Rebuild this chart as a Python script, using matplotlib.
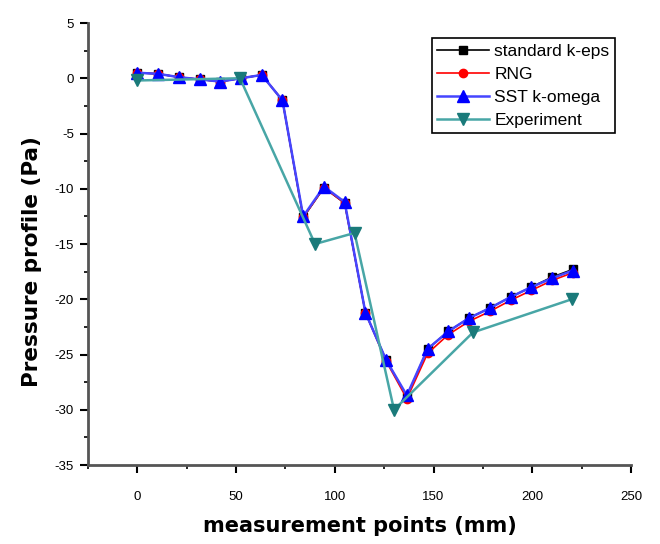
import numpy as np
import matplotlib
matplotlib.use('Agg')
import matplotlib.pyplot as plt
from matplotlib.ticker import MultipleLocator

# measurement positions (mm)
x_sim = [0, 10.5, 21, 31.5, 42, 52.5, 63, 73.5, 84, 94.5, 105, 115.5,
         126, 136.5, 147, 157.5, 168, 178.5, 189, 199.5, 210, 220.5]
keps = [0.5, 0.4, 0.1, -0.1, -0.3, 0.0, 0.3, -2.0, -12.6, -9.9, -11.3, -21.2,
        -25.5, -28.8, -24.5, -22.9, -21.7, -20.8, -19.8, -18.9, -18.0, -17.3]
rng = [0.5, 0.4, 0.1, -0.1, -0.3, 0.0, 0.3, -2.0, -12.6, -9.9, -11.3, -21.2,
       -25.6, -29.0, -24.9, -23.2, -22.0, -21.1, -20.1, -19.2, -18.3, -17.6]
sst = [0.5, 0.4, 0.1, -0.1, -0.3, 0.0, 0.3, -2.0, -12.5, -9.8, -11.2, -21.2,
       -25.5, -28.7, -24.5, -22.9, -21.7, -20.8, -19.8, -18.9, -18.1, -17.4]
x_exp = [0, 52, 90, 110, 130, 170, 220]
exp = [-0.2, 0.0, -15.0, -14.0, -30.0, -23.0, -20.0]

plt.rcParams['font.family'] = ['Liberation Sans', 'DejaVu Sans']
plt.rcParams['axes.unicode_minus'] = False

fig = plt.figure(figsize=(6.6, 5.44), dpi=100)
ax = fig.add_axes([0.1333, 0.1452, 0.8227, 0.8125])

ax.plot(x_sim, keps, color='black', marker='s', ms=6, lw=1.2, label='standard k-eps')
ax.plot(x_sim, rng, color='red', marker='o', ms=6, lw=1.2, label='RNG')
ax.plot(x_sim, sst, color='#4545ff', marker='^', ms=8, mfc='blue', mec='blue', lw=1.8, label='SST k-omega')
ax.plot(x_exp, exp, color='#48a6a6', marker='v', ms=8, mfc='#1a7a7a', mec='#1a7a7a', lw=1.8, label='Experiment')

ax.set_xlim(-25, 250)
ax.set_ylim(-35, 5)
ax.xaxis.set_major_locator(MultipleLocator(50))
ax.xaxis.set_minor_locator(MultipleLocator(25))
ax.yaxis.set_major_locator(MultipleLocator(5))
ax.yaxis.set_minor_locator(MultipleLocator(2.5))

for s in ['top', 'right']:
    ax.spines[s].set_visible(False)
for s in ['left', 'bottom']:
    ax.spines[s].set_linewidth(2)
    ax.spines[s].set_color('#555555')

ax.tick_params(which='major', direction='out', length=6, width=1.5, labelsize=9.5, pad=13)
ax.tick_params(which='minor', direction='out', length=3, width=1.2)
ax.tick_params(axis='y', pad=4)

ax.set_xlabel('measurement points (mm)', fontsize=15, fontweight='bold',
              family='DejaVu Sans', labelpad=9)
ax.set_ylabel('Pressure profile (Pa)', fontsize=15.5, fontweight='bold',
              family='DejaVu Sans')
ax.yaxis.set_label_coords(-0.085, 0.46)

leg = ax.legend(loc='upper right', bbox_to_anchor=(0.97, 0.965), fontsize=12.5,
                fancybox=False, edgecolor='black', framealpha=1,
                handlelength=3, handletextpad=0.3, borderpad=0.3, labelspacing=0.45,
                borderaxespad=0)
leg.get_frame().set_linewidth(1.2)

fig.savefig('out.png', dpi=100)
